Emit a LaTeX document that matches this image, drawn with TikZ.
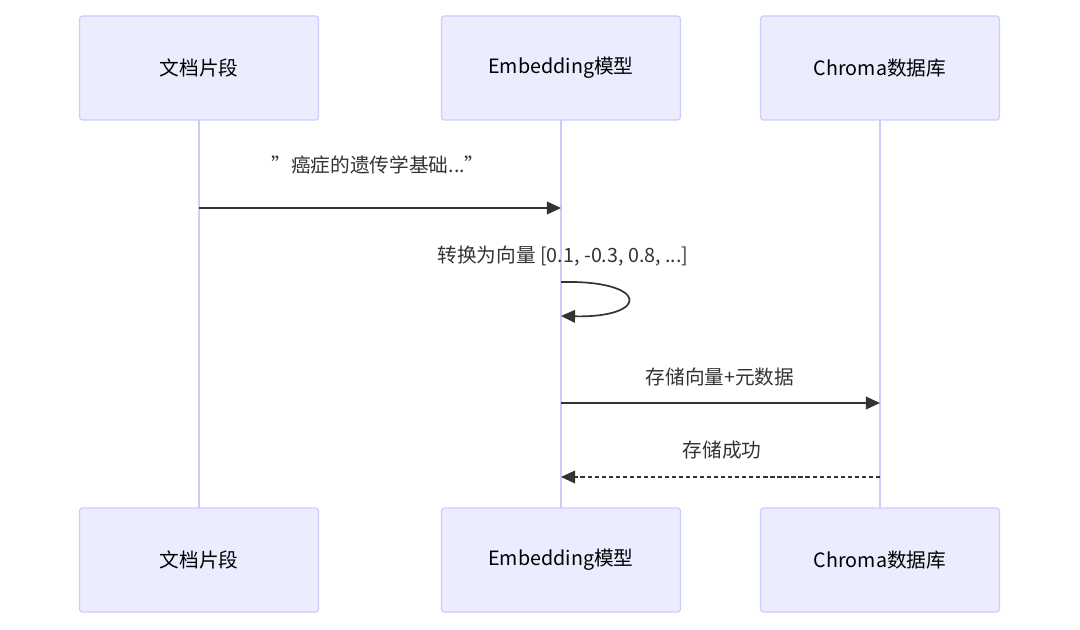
\documentclass[tikz,border=0pt]{standalone}
\usepackage{fontspec}
\setmainfont{Noto Sans CJK SC}
\usetikzlibrary{arrows.meta}
\definecolor{actorFill}{HTML}{ECECFF}
\definecolor{actorLine}{HTML}{CCCCFF}
\definecolor{lifeLine}{HTML}{D6C8F5}
\definecolor{msgLine}{HTML}{333333}
\tikzset{
  actor/.style={draw=actorLine, fill=actorFill, line width=0.8pt, rounded corners=2pt,
    minimum width=239\px, minimum height=104\px, inner sep=0pt, font=\fontsize{14}{16}\selectfont},
  msg/.style={draw=msgLine, line width=1.2pt, -{Triangle[length=10pt,width=9pt]}},
  lbl/.style={font=\fontsize{14}{16}\selectfont, text=msgLine}
}
\newlength{\px}\setlength{\px}{0.025cm}
\begin{document}
\begin{tikzpicture}[x=0.025cm, y=-0.025cm]
\useasboundingbox (0,0) rectangle (1080,630);

        % lifelines
        \draw[lifeLine, line width=1.5pt] (199,120) -- (199,508);
        \draw[lifeLine, line width=1.5pt] (561,120) -- (561,508);
        \draw[lifeLine, line width=1.5pt] (880,120) -- (880,508);

        % actors
        \node[actor] (docTop) at (199,68) {文档片段};
        \node[actor] (embTop) at (561,68) {Embedding模型};
        \node[actor] (dbTop) at (880,68) {Chroma数据库};
        \node[actor] (docBot) at (199,560) {文档片段};
        \node[actor] (embBot) at (561,560) {Embedding模型};
        \node[actor] (dbBot) at (880,560) {Chroma数据库};

        % message points
        \coordinate (d1) at (199,208);
        \coordinate (e1) at (561,208);
        \coordinate (e2) at (561,282);
        \coordinate (e3) at (561,316);
        \coordinate (e4) at (561,403);
        \coordinate (c4) at (880,403);
        \coordinate (c5) at (880,477);
        \coordinate (e5) at (561,477);

        \node[lbl] (m1) at (378,165) {"癌症的遗传学基础..."};
        \draw[msg] (d1) -- (e1);

        \node[lbl] (m2) at (563,256) {转换为向量 [0.1, -0.3, 0.8, ...]};
        \draw[msg] (e2) .. controls (650,280) and (650,318) .. (e3);

        \node[lbl] (m3) at (720,377) {存储向量+元数据};
        \draw[msg] (e4) -- (c4);

        \node[lbl] (m4) at (722,450) {存储成功};
        \draw[msg, dash pattern=on 3pt off 2pt] (c5) -- (e5);

\end{tikzpicture}
\end{document}
